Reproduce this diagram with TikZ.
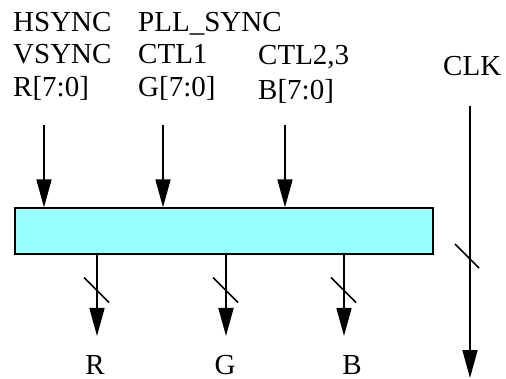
\documentclass[tikz,border=0pt]{standalone}
\usepackage{fontspec}
\setmainfont{Liberation Serif}
\usetikzlibrary{arrows.meta,calc}

\definecolor{boxcyan}{HTML}{99FFFF}

\tikzset{
  sig/.style={line width=1.6pt, -{Triangle[length=28pt,width=15pt]}},
  lbl/.style={anchor=base west, inner sep=0pt, font=\fontsize{29}{32}\selectfont},
  busmark/.style={line width=1.5pt},
}

\begin{document}
\begin{tikzpicture}[x=1pt,y=-1pt]
    \useasboundingbox (0,0) rectangle (506,379);

		%%%% input labels
		\node [lbl] (hsync) at (13,32) {HSYNC};
		\node [lbl] (vsync) at (13,63.5) {VSYNC};
		\node [lbl] (rin)   at (13,97) {R[7:0]};
		\node [lbl] (pll)   at (138,32) {PLL\_SYNC};
		\node [lbl] (ctla)  at (138,63.5) {CTL1};
		\node [lbl] (gin)   at (138,97) {G[7:0]};
		\node [lbl] (ctlb)  at (258,65) {CTL2,3};
		\node [lbl] (bin)   at (258,99.5) {B[7:0]};
		\node [lbl] (clk)   at (443,76) {CLK};

		%%%% the block
		\node [draw, line width=1.2pt, fill=boxcyan, minimum width=418pt, minimum height=46pt, inner sep=0pt] (conv) at (224,231) {};

		\foreach \x/\n in {44/a,163/b,285/c}
			\coordinate (in\n) at (\x,125);
		\foreach \n in {a,b,c}
			\draw [sig] (in\n) -- (in\n |- conv.north);

		%%%% outputs
		\coordinate (outR) at (97,336);
		\coordinate (outG) at (226,336);
		\coordinate (outB) at (344,336);
		\foreach \y in {R,G,B}{
			\draw [sig] (conv.south -| out\y) -- (out\y);
			\draw [busmark] ($(out\y)+(-13,-58.5)$) -- ++(25,25);
		}

		\node [lbl, anchor=base, text depth=0pt] (rout) at (95,374) {R};
		\node [lbl, anchor=base, text depth=0pt] (gout) at (225,374) {G};
		\node [lbl, anchor=base, text depth=0pt] (bout) at (352,374) {B};

		%%%% clock
		\coordinate (clktop) at (470,106);
		\coordinate (clkbot) at (470,378);
		\draw [sig] (clktop) -- (clkbot);
		\draw [busmark] (455,244) -- (479,268);

\end{tikzpicture}
\end{document}
